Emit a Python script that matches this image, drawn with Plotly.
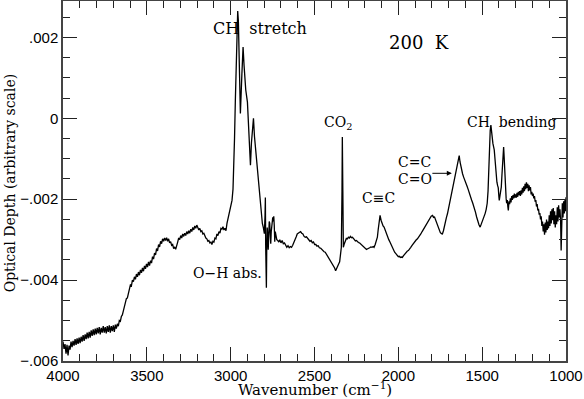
import plotly.graph_objects as go

# ---------------- data (optical depth in units of 1e-3) ----------------
wn_plateau = [4000, 3994, 3988, 3982, 3976, 3970, 3964, 3958, 3952, 3946, 3940, 3934, 3928, 3922,
              3916, 3910, 3904, 3898, 3892, 3886, 3880, 3874, 3868, 3862, 3856, 3850, 3844, 3838,
              3832, 3826, 3820, 3814, 3808, 3802, 3796, 3790, 3784, 3778, 3772, 3766, 3760, 3754,
              3748, 3742, 3736, 3730, 3724, 3718, 3712, 3706, 3700, 3694, 3688, 3682]
od_plateau = [-5.52, -5.70, -5.58, -5.82, -5.60, -5.86, -5.62, -5.72, -5.52, -5.66, -5.50, -5.62, -5.46, -5.60,
              -5.44, -5.58, -5.42, -5.56, -5.40, -5.52, -5.36, -5.50, -5.34, -5.46, -5.30, -5.44, -5.28, -5.42,
              -5.24, -5.38, -5.22, -5.36, -5.20, -5.34, -5.18, -5.32, -5.16, -5.34, -5.18, -5.30, -5.14, -5.30,
              -5.16, -5.32, -5.14, -5.28, -5.12, -5.30, -5.14, -5.26, -5.12, -5.28, -5.10, -5.20]

wn_rise = [3676, 3670, 3664, 3658, 3652, 3646, 3640, 3634, 3628, 3622, 3616, 3610, 3604, 3598, 3592, 3586,
           3580, 3574, 3568, 3562, 3556, 3550, 3544, 3538, 3532, 3526, 3520, 3514, 3508, 3502, 3496, 3490,
           3484, 3478, 3472, 3466, 3460, 3454, 3448, 3442, 3436, 3430, 3424, 3418, 3412, 3406, 3400, 3394,
           3388, 3382, 3376, 3370, 3364, 3358, 3352, 3346, 3340, 3334, 3328, 3322, 3316, 3310, 3304, 3298,
           3292, 3286, 3280, 3274, 3268, 3262, 3256, 3250, 3244, 3238, 3232, 3226, 3220, 3214, 3208, 3202, 3196]
od_rise = [-5.08, -5.14, -5.00, -5.02, -4.90, -4.86, -4.76, -4.66, -4.60, -4.46, -4.44, -4.30, -4.26, -4.12, -4.14, -4.00,
           -4.04, -3.92, -3.98, -3.85, -3.92, -3.80, -3.88, -3.75, -3.82, -3.70, -3.78, -3.65, -3.72, -3.60, -3.68, -3.55,
           -3.64, -3.52, -3.58, -3.42, -3.48, -3.33, -3.38, -3.22, -3.28, -3.12, -3.18, -3.04, -3.10, -2.98, -3.04, -2.96,
           -3.02, -2.95, -3.04, -2.98, -3.08, -3.05, -3.14, -3.12, -3.22, -3.18, -3.24, -3.10, -3.06, -2.96, -3.00, -2.90,
           -2.96, -2.86, -2.92, -2.84, -2.90, -2.80, -2.86, -2.78, -2.84, -2.74, -2.80, -2.70, -2.76, -2.66, -2.72, -2.64, -2.70]

wn_ch = [3190, 3184, 3178, 3172, 3166, 3160, 3154, 3148, 3142, 3136, 3130, 3124, 3118, 3112, 3106, 3100,
         3094, 3088, 3082, 3076, 3070, 3064, 3058, 3052, 3046, 3040, 3034, 3028, 3022, 3016, 3010, 3004,
         2998, 2992, 2986, 2982, 2977, 2972, 2966, 2962, 2958, 2954, 2948, 2942, 2933, 2926, 2920, 2910,
         2900, 2892, 2886, 2882, 2876, 2868, 2864, 2858, 2848, 2840, 2832, 2823, 2811, 2805, 2799]
od_ch = [-2.76, -2.72, -2.80, -2.78, -2.86, -2.84, -2.92, -2.96, -2.98, -3.04, -3.02, -3.08, -3.06, -3.12, -3.04, -3.06,
         -2.96, -2.98, -2.86, -2.90, -2.80, -2.84, -2.72, -2.74, -2.68, -2.76, -2.72, -2.78, -2.60, -2.50, -2.38, -2.30,
         -2.18, -2.03, -1.75, -1.37, -0.50, 0.45, 1.50, 2.10, 2.65, 2.40, 1.20, 0.12, 1.10, 1.76, 1.30, 0.70,
         0.40, -0.30, -0.90, -1.16, -0.60, -0.05, 0.00, -0.45, -0.95, -1.21, -1.75, -2.21, -2.60, -2.70, -2.85]

wn_oh = [2795, 2793, 2791, 2787, 2785, 2782, 2779, 2776, 2773, 2770, 2767, 2764, 2761, 2758, 2755, 2752,
         2749, 2746, 2743, 2740, 2737, 2734, 2730, 2725, 2719, 2713, 2707, 2700, 2693, 2686, 2679, 2672,
         2665, 2658, 2651, 2644, 2637, 2630, 2623, 2616, 2609, 2603, 2597, 2590, 2583, 2576, 2569, 2562,
         2555, 2548, 2541, 2534, 2527, 2520, 2513, 2506, 2499, 2492, 2485, 2478, 2471, 2464, 2457, 2450,
         2443, 2436, 2429, 2422, 2415, 2408, 2401, 2394, 2387, 2380, 2374]
od_oh = [-2.40, -1.96, -3.20, -4.19, -3.30, -2.70, -2.90, -3.25, -2.70, -2.55, -2.60, -2.85, -3.10, -2.80, -2.60, -2.50,
         -2.45, -2.55, -2.42, -2.65, -3.05, -2.80, -2.90, -3.00, -3.02, -3.06, -3.00, -3.08, -3.02, -3.10, -3.08, -3.16,
         -3.19, -3.15, -3.20, -3.17, -3.19, -3.14, -3.08, -3.00, -2.93, -2.86, -2.84, -2.80, -2.80, -2.84, -2.86, -2.92,
         -2.94, -2.93, -2.97, -3.00, -3.04, -3.02, -3.08, -3.06, -3.12, -3.12, -3.16, -3.15, -3.20, -3.21, -3.25, -3.27,
         -3.30, -3.31, -3.36, -3.38, -3.45, -3.50, -3.56, -3.60, -3.66, -3.70, -3.77]

wn_mid = [2368, 2362, 2356, 2350, 2345, 2340, 2336, 2334, 2331, 2328, 2322, 2316, 2310, 2304, 2298, 2292,
          2286, 2280, 2274, 2268, 2262, 2256, 2250, 2244, 2238, 2232, 2226, 2220, 2214, 2208, 2202, 2196,
          2190, 2185, 2178, 2171, 2164, 2157, 2150, 2145, 2138, 2131, 2125, 2120, 2115, 2109, 2103, 2097,
          2091, 2085, 2078, 2071, 2064, 2057, 2050, 2046, 2040, 2034, 2028, 2022, 2016, 2010, 2006, 2000,
          1994, 1988, 1982, 1976, 1970, 1964, 1958, 1952, 1946, 1940, 1934, 1926, 1918, 1910, 1902, 1894,
          1886, 1878, 1870, 1866, 1858, 1850, 1842, 1834, 1826, 1818, 1810, 1804, 1796, 1790, 1784, 1777,
          1770, 1763, 1756, 1750, 1743, 1737, 1731, 1725, 1719, 1713, 1707, 1700, 1693, 1687, 1680, 1673,
          1667, 1660, 1653, 1647, 1641, 1637, 1632, 1627, 1622, 1617, 1610, 1603, 1597, 1590, 1584, 1577,
          1570, 1563, 1556, 1547, 1540, 1533, 1526, 1519, 1512, 1506, 1500, 1494, 1488, 1482, 1476, 1470]
od_mid = [-3.70, -3.66, -3.60, -3.55, -3.40, -3.19, -1.80, -0.46, -1.80, -3.19, -3.10, -3.00, -2.97, -2.98, -2.94, -2.96,
          -2.92, -2.95, -2.94, -2.97, -2.99, -3.03, -3.02, -3.06, -3.07, -3.08, -3.10, -3.12, -3.15, -3.17, -3.20, -3.21,
          -3.24, -3.23, -3.22, -3.20, -3.18, -3.19, -3.17, -3.19, -3.12, -3.03, -2.94, -2.75, -2.55, -2.40, -2.52, -2.60,
          -2.66, -2.69, -2.78, -2.86, -2.93, -3.00, -3.06, -3.10, -3.16, -3.22, -3.27, -3.31, -3.34, -3.38, -3.39, -3.42,
          -3.41, -3.44, -3.43, -3.44, -3.40, -3.37, -3.33, -3.32, -3.28, -3.27, -3.22, -3.19, -3.14, -3.09, -3.06, -3.01,
          -2.98, -2.94, -2.89, -2.86, -2.80, -2.74, -2.68, -2.62, -2.56, -2.50, -2.44, -2.42, -2.40, -2.45, -2.44, -2.53,
          -2.60, -2.68, -2.76, -2.82, -2.85, -2.86, -2.78, -2.65, -2.55, -2.45, -2.36, -2.22, -2.06, -1.92, -1.80, -1.67,
          -1.54, -1.38, -1.22, -1.08, -0.98, -0.92, -1.08, -1.20, -1.28, -1.37, -1.46, -1.56, -1.62, -1.68, -1.75, -1.86,
          -1.94, -2.02, -2.10, -2.20, -2.32, -2.44, -2.55, -2.63, -2.69, -2.62, -2.55, -2.48, -2.45, -2.35, -2.25, -2.10]

wn_bend = [1465, 1460, 1456, 1452, 1448, 1444, 1440, 1436, 1432, 1428, 1424, 1420, 1416, 1412, 1408, 1404,
           1400, 1398, 1394, 1390, 1386, 1382, 1378, 1374, 1372, 1369, 1366, 1363, 1360, 1357, 1354, 1350,
           1347, 1344, 1340, 1336, 1332, 1328, 1324, 1320, 1316, 1312, 1308, 1304, 1300, 1296, 1292, 1288,
           1284, 1280, 1276, 1272, 1268, 1264, 1260, 1256, 1252, 1248, 1244, 1240, 1236, 1232, 1228, 1224,
           1220, 1216, 1212, 1208, 1204, 1200, 1196, 1192, 1188, 1184, 1180, 1176, 1172, 1168, 1164, 1160,
           1156, 1152, 1148, 1144, 1140, 1136, 1132, 1128, 1124, 1120, 1116, 1112, 1108, 1104, 1100, 1096,
           1092, 1088, 1084, 1080, 1076, 1072, 1068, 1064, 1060, 1056, 1052, 1048, 1044, 1040, 1036, 1032,
           1029, 1026, 1022, 1018, 1014, 1010, 1006, 1003, 1000]
od_bend = [-1.80, -1.00, -0.55, -0.30, -0.17, -0.40, -0.55, -0.62, -0.70, -0.78, -0.98, -1.25, -1.45, -1.58, -1.66, -1.72,
           -1.95, -2.03, -1.92, -1.80, -1.70, -1.40, -1.05, -0.78, -0.71, -0.95, -1.30, -1.65, -1.87, -1.98, -2.10, -2.02,
           -2.18, -2.28, -2.05, -2.12, -1.98, -2.08, -1.92, -2.02, -1.90, -1.98, -1.86, -1.96, -1.88, -1.96, -1.84, -1.94,
           -1.82, -1.90, -1.80, -1.92, -1.78, -1.88, -1.72, -1.84, -1.68, -1.80, -1.62, -1.75, -1.58, -1.72, -1.62, -1.80,
           -1.66, -1.78, -1.70, -1.88, -1.82, -1.92, -1.86, -1.98, -1.92, -2.06, -2.02, -2.18, -2.12, -2.28, -2.24, -2.38,
           -2.34, -2.50, -2.42, -2.66, -2.55, -2.80, -2.62, -2.88, -2.58, -2.82, -2.50, -2.76, -2.55, -2.72, -2.40, -2.66,
           -2.30, -2.60, -2.25, -2.52, -2.22, -2.62, -2.30, -2.70, -2.40, -2.62, -2.20, -2.55, -2.15, -2.45, -2.25, -2.55,
           -3.27, -2.40, -2.10, -2.45, -2.05, -2.35, -2.00, -2.30, -1.95]

wavenumber = wn_plateau + wn_rise + wn_ch + wn_oh + wn_mid + wn_bend
optical_depth = [v * 1e-3 for v in od_plateau + od_rise + od_ch + od_oh + od_mid + od_bend]

x_tickvals = [4000, 3500, 3000, 2500, 2000, 1500, 1000]
y_tickvals = [-0.006, -0.004, -0.002, 0, 0.002]
y_ticktext = ["\u2212.006", "\u2212.004", "\u2212.002", "0", ".002"]

SERIF = "DejaVu Serif"
SANS = "Liberation Sans"

fig = go.Figure()
fig.add_trace(go.Scatter(x=wavenumber, y=optical_depth, mode="lines",
                         line=dict(color="black", width=1.3), hoverinfo="skip", showlegend=False))

axis_common = dict(showline=True, linecolor="#444", linewidth=1.5, mirror="ticks",
                   ticks="inside", ticklen=14, tickwidth=1, tickcolor="#222",
                   showgrid=False, zeroline=False, automargin=False,
                   tickfont=dict(family=SANS, size=15, color="black"))

fig.update_xaxes(range=[4000, 1000], tickvals=x_tickvals,
                 minor=dict(ticks="inside", ticklen=7, dtick=100, tick0=0, tickcolor="#222", showgrid=False),
                 **axis_common)
fig.update_yaxes(range=[-0.006, 0.0029], tickvals=y_tickvals, ticktext=y_ticktext,
                 minor=dict(ticks="inside", ticklen=7, dtick=0.0005, tick0=0, tickcolor="#222", showgrid=False),
                 **axis_common)

def label(x, y, text, size=14, **kw):
    fig.add_annotation(x=x, y=y, xref="x", yref="y", text=text, showarrow=False,
                       xanchor="center", yanchor="middle",
                       font=dict(family=SERIF, size=size, color="black"), **kw)

label(2828, 0.00223, "CH\u00a0\u00a0stretch", size=16)
label(1878, 0.00187, "200\u00a0\u00a0K", size=18)
label(2362, -0.00012, "CO<sub>2</sub>", size=14)
label(2117, -0.00196, "C\u2261C", size=14)
label(1902, -0.00109, "C=C", size=14)
label(1902, -0.00149, "C=O", size=14)
label(3020, -0.00382, "O\u2212H\u00a0abs.", size=14)
label(1322, -0.00010, "CH\u00a0\u00a0bending", size=14)

fig.add_annotation(x=1681, y=-0.00136, ax=1806, ay=-0.00136, xref="x", yref="y",
                   axref="x", ayref="y", text="", showarrow=True,
                   arrowhead=2, arrowsize=1, arrowwidth=1, arrowcolor="black")

fig.add_annotation(x=0.5, y=-0.078, xref="paper", yref="paper",
                   xanchor="center", yanchor="middle",
                   text="Wavenumber (cm<sup>\u22121</sup>)", showarrow=False,
                   font=dict(family=SERIF, size=15, color="black"))
fig.add_annotation(x=-0.105, y=0.494, xref="paper", yref="paper", textangle=-90,
                   xanchor="center", yanchor="middle",
                   text="Optical Depth (arbitrary scale)", showarrow=False,
                   font=dict(family=SERIF, size=14, color="black"))

fig.update_layout(width=584, height=399, margin=dict(l=63, r=18, t=1, b=38),
                  plot_bgcolor="white", paper_bgcolor="white")

fig.write_html("out.html", config={"displayModeBar": False},
               post_script="document.body.style.margin='0';document.body.style.padding='0';")
